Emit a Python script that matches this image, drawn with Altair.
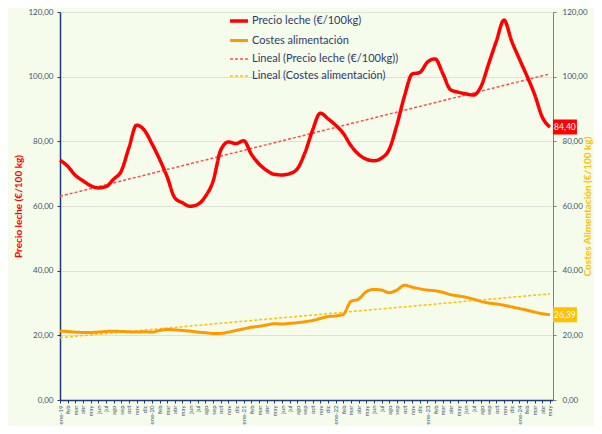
import altair as alt
import pandas as pd

meses = ["ene-19", "feb", "mar", "abr", "may", "jun", "jul", "ago", "sep", "oct", "nov", "dic",
         "ene-20", "feb", "mar", "abr", "may", "jun", "jul", "ago", "sep", "oct", "nov", "dic",
         "ene-21", "feb", "mar", "abr", "may", "jun", "jul", "ago", "sep", "oct", "nov", "dic",
         "ene-22", "feb", "mar", "abr", "may", "jun", "jul", "ago", "sep", "oct", "nov", "dic",
         "ene-23", "feb", "mar", "abr", "may", "jun", "jul", "ago", "sep", "oct", "nov", "dic",
         "ene-24", "feb", "mar", "abr", "may"]

precio = [74.2, 72.3, 69.5, 67.8, 66.3, 65.6, 66.0, 68.3, 70.8, 78.0, 85.0, 83.5,
          79.3, 74.5, 69.0, 62.5, 61.0, 59.9, 60.5, 63.0, 67.7, 77.3, 79.8, 79.3,
          80.2, 76.0, 73.0, 71.0, 69.8, 69.6, 70.0, 71.5, 76.5, 83.5, 88.7, 87.0,
          85.0, 82.5, 78.7, 76.0, 74.5, 74.0, 74.8, 77.5, 85.0, 94.0, 100.8, 101.3,
          104.5, 105.5, 101.0, 96.0, 95.2, 94.7, 94.3, 97.0, 104.0, 111.0, 117.5, 111.0,
          105.5, 100.2, 94.5, 87.5, 84.4]

costes = [21.3, 21.2, 21.0, 20.9, 20.9, 21.0, 21.2, 21.3, 21.2, 21.1, 21.0, 21.1,
          21.0, 21.5, 21.8, 21.7, 21.5, 21.3, 21.0, 20.8, 20.6, 20.6, 21.0, 21.5,
          22.0, 22.5, 22.8, 23.2, 23.6, 23.5, 23.7, 23.9, 24.2, 24.6, 25.2, 25.8,
          26.0, 26.5, 30.5, 31.2, 33.5, 34.2, 34.0, 33.2, 34.0, 35.5, 34.9, 34.4,
          34.0, 33.8, 33.3, 32.6, 32.2, 31.8, 31.2, 30.5, 30.0, 29.7, 29.3, 28.8,
          28.3, 27.8, 27.2, 26.7, 26.39]

series = ["Precio leche (€/100kg)", "Costes alimentación"]
series_all = series + ["Lineal (" + s + ")" for s in series]
colores = ["#FF0000", "#FF9900", "#FF4D4D", "#FFC000"]

n = len(meses)
df = pd.DataFrame({
    "i": list(range(n)) * 2,
    "serie": [series[0]] * n + [series[1]] * n,
    "valor": precio + costes,
})

label_expr = "[" + ",".join("'" + m + "'" for m in meses) + "][datum.value]"
num_expr = "replace(format(datum.value, '.2f'), '.', ',')"

FONT = "Lato"
LBL = "#44546A"

x_enc = alt.X("i:Q", title=None,
              scale=alt.Scale(domain=[0, n - 0.6], nice=False, zero=False),
              axis=alt.Axis(values=list(range(n)), labelExpr=label_expr, labelAngle=270,
                            labelFontSize=6, labelColor=LBL, labelFont=FONT, labelPadding=2,
                            tickSize=3, tickColor="#1F3A75", domainColor="#1F3A75",
                            domainWidth=1.5, grid=False, labelOverlap=False))

yscale = alt.Scale(domain=[0, 120], nice=False)

y_left = alt.Y("valor:Q", scale=yscale, title="Precio leche (€/100 kg)",
               axis=alt.Axis(values=[0, 20, 40, 60, 80, 100, 120], labelExpr=num_expr,
                             labelFontSize=8, labelColor=LBL, labelFont=FONT,
                             tickSize=3, tickColor="#1F3A75", labelPadding=4,
                             domainColor="#1F3A75", domainWidth=1.5,
                             grid=True, gridColor="#DCE3D6", gridWidth=1,
                             titleColor="#FF0000", titleFontSize=10, titleFont=FONT,
                             titleFontWeight="bold", titlePadding=4))
y_right = alt.Y("valor:Q", scale=yscale, title="Costes Alimentación (€/100 kg)",
                axis=alt.Axis(orient="right", values=[0, 20, 40, 60, 80, 100, 120],
                              labelExpr=num_expr, labelFontSize=8, labelColor=LBL,
                              labelFont=FONT, tickSize=3, tickColor="#808080",
                              labelPadding=6, domainColor="#808080", domainWidth=1,
                              grid=False, titleColor="#FFC000", titleFontSize=10,
                              titleFont=FONT, titleFontWeight="bold", titleAngle=270,
                              titlePadding=5))
y_none = alt.Y("valor:Q", scale=yscale, axis=None)

leg = alt.Legend(title=None, orient="none", legendX=168, legendY=-2, symbolType="stroke",
                 symbolSize=320, labelFontSize=11, labelColor="#2E3A6B", labelFont=FONT,
                 rowPadding=2, labelOffset=2)
color = alt.Color("serie:N", scale=alt.Scale(domain=series_all, range=colores), legend=leg)
dash = alt.StrokeDash("serie:N", scale=alt.Scale(domain=series_all,
                      range=[[1, 0], [1, 0], [3, 2], [3, 2]]), legend=leg)
swidth = alt.StrokeWidth("serie:N", scale=alt.Scale(type="ordinal", domain=series_all,
                         range=[3.5, 3, 1.5, 1.5]), legend=leg)

base = alt.Chart(df)


def trend(k, y):
    return (base.transform_filter(alt.datum.serie == series[k])
            .transform_regression("i", "valor")
            .transform_calculate(serie="'" + series_all[k + 2] + "'")
            .mark_line()
            .encode(x=x_enc, y=y, color=color, strokeDash=dash, strokeWidth=swidth))


def serie_line(k, y):
    return (base.transform_filter(alt.datum.serie == series[k])
            .mark_line(interpolate="monotone")
            .encode(x=x_enc, y=y, color=color, strokeDash=dash, strokeWidth=swidth))


def caja(k, fill):
    last = base.transform_filter((alt.datum.serie == series[k]) & (alt.datum.i == n - 1))
    box = last.mark_rect(width=24, height=15, xOffset=15, fill=fill).encode(x=x_enc, y=y_none)
    txt = (last.transform_calculate(txt="replace(format(datum.valor, '.2f'), '.', ',')")
           .mark_text(color="white", fontSize=8.5, font=FONT, xOffset=15)
           .encode(x=x_enc, y=y_none, text="txt:N"))
    return box, txt


b1, t1 = caja(0, "#FF0000")
b2, t2 = caja(1, "#FFC000")

chart = alt.layer(
    trend(0, y_none),
    serie_line(0, y_left),
    trend(1, y_none),
    serie_line(1, y_right),
    b1, t1, b2, t2,
).resolve_scale(y="independent").properties(
    width=493, height=388,
    padding={"left": 52, "top": 4, "right": 41, "bottom": 26},
    autosize="none",
    background="#F5FCEB",
    title=alt.TitleParams(text="Fuente: INFOLAC, DGPMA, elaboración SCF", fontSize=10,
                          fontWeight="bold", color="#1F3864", font=FONT,
                          anchor="middle", offset=3),
).configure_view(stroke=None)

chart.save("out.html", embed_options={"renderer": "svg", "actions": False})
